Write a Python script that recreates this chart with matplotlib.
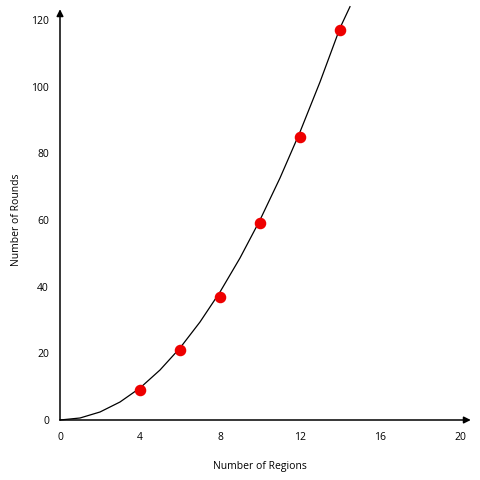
import matplotlib
matplotlib.use("Agg")
import matplotlib.pyplot as plt

# curve (polyline through integer regions)
curve_x = [0, 1, 2, 3, 4, 5, 6, 7, 8, 9, 10, 11, 12, 13, 14, 14.5]
curve_y = [0, 0.6, 2.4, 5.4, 9.6, 15, 21.6, 29.4, 38.4, 48.6, 60, 72.6, 86.4, 101.4, 117.6, 124]

# measured points
regions = [4, 6, 8, 10, 12, 14]
rounds = [9, 21, 37, 59, 85, 117]

xticks = [0, 4, 8, 12, 16, 20]
yticks = [0, 20, 40, 60, 80, 100, 120]

plt.rcParams['font.family'] = ['Open Sans', 'DejaVu Sans']

fig = plt.figure(figsize=(4.8, 4.8), dpi=100)
ax = fig.add_axes([0.125, 0.125, 0.8333, 0.8333])

ax.plot(curve_x, curve_y, color='black', lw=0.9, clip_on=False, zorder=2)
ax.plot(regions, rounds, 'o', color='#ee0000', ms=7.3, mec='#ee0000', zorder=3)

ax.set_xlim(0, 20)
ax.set_ylim(0, 120)
ax.set_xticks(xticks)
ax.set_yticks(yticks)
ax.tick_params(length=0, labelsize=7.5, pad=9)
ax.tick_params(axis='y', pad=8)

for s in ax.spines.values():
    s.set_visible(False)

arrow = dict(arrowstyle='-|>', color='black', lw=1.1, mutation_scale=10, shrinkA=0, shrinkB=0)
ax.annotate('', xy=(1.027, 0), xytext=(0, 0), xycoords='axes fraction', arrowprops=arrow)
ax.annotate('', xy=(0, 1.027), xytext=(0, 0), xycoords='axes fraction', arrowprops=arrow)

fig.text(260 / 480, 1 - 466 / 480, 'Number of Regions', fontsize=7.5, ha='center', va='center')
fig.text(17 / 480, 1 - 220 / 480, 'Number of Rounds', fontsize=7.5, ha='center', va='center',
         rotation=90)

fig.savefig('out.png', dpi=100)
